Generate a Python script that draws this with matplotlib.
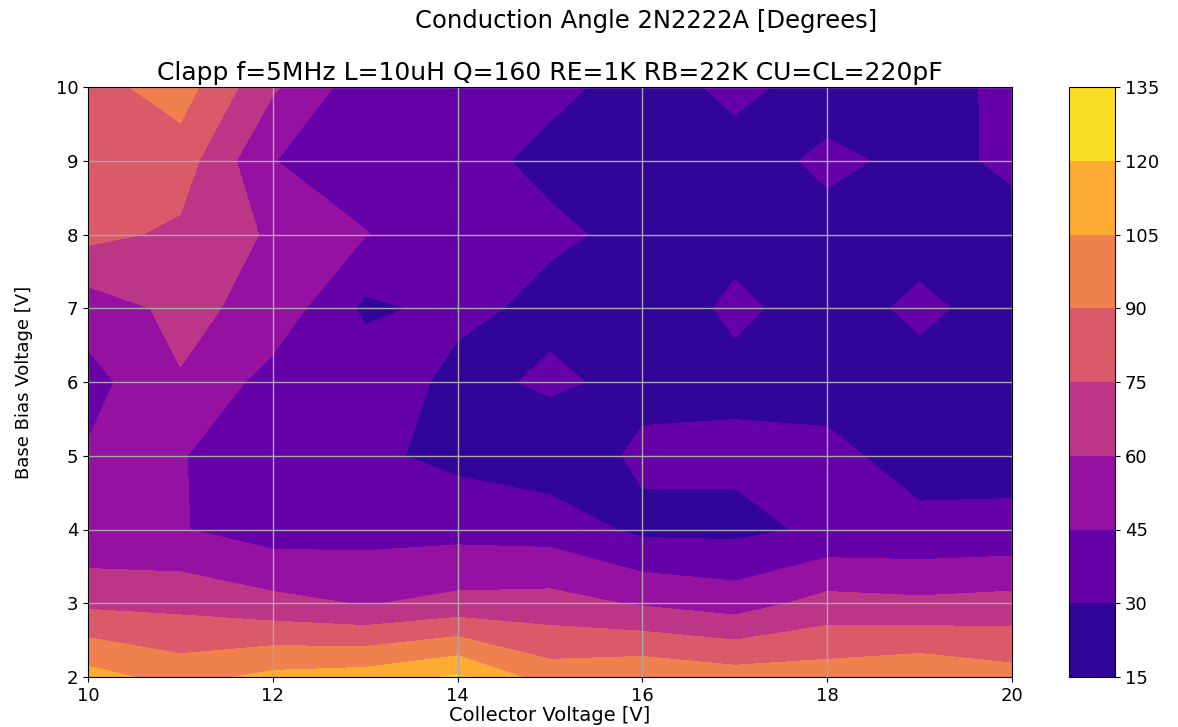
import numpy as np
import matplotlib
matplotlib.use("Agg")
import matplotlib.pyplot as plt

collector_v = [10, 11, 12, 13, 14, 15, 16, 17, 18, 19, 20]
base_v = [2, 3, 4, 5, 6, 7, 8, 9, 10]

# conduction angle [deg], one row per base bias voltage
angle_y2 = [110.8, 99, 109, 111.9, 121.7, 97.8, 102.3, 97, 97.8, 102.6, 95.8]
angle_y3 = [71.8, 70.5, 64.2, 59, 64, 65.2, 58.3, 53, 65.2, 63.1, 65.2]
angle_y4 = [46.7, 45.8, 38, 39.3, 40, 38.5, 26.6, 26.3, 32.5, 32.5, 33.6]
angle_y5 = [46.5, 45.8, 35, 33, 26.1, 20.4, 32.7, 32.9, 32.6, 26, 25]
angle_y6 = [39.5, 59, 39, 40.5, 25.5, 32.4, 26.1, 27, 26, 26.4, 25]
angle_y7 = [52, 63.9, 55, 27, 33.5, 26.4, 23.3, 32, 25.6, 32, 26]
angle_y8 = [79, 72.2, 57.8, 45.5, 35, 32.1, 26.9, 26.9, 27.8, 26.4, 28.4]
angle_y9 = [84, 82.5, 45.3, 38, 33.6, 27.3, 26, 27, 31.3, 28.5, 30.8]
angle_y10 = [84.3, 97, 62, 36, 36, 32.4, 26.4, 31.85, 27, 26, 32.25]

levels = [15, 30, 45, 60, 75, 90, 105, 120, 135]

Z = np.array([angle_y2, angle_y3, angle_y4, angle_y5, angle_y6,
              angle_y7, angle_y8, angle_y9, angle_y10])
X, Y = np.meshgrid(collector_v, base_v)

plt.rcParams["font.family"] = ["DejaVu Sans"]

W, H = 1178, 727
fig = plt.figure(figsize=(W / 100, H / 100), dpi=100)
ax = fig.add_axes([88 / W, 1 - 677 / H, (1012 - 88) / W, (677 - 87) / H])
cax = fig.add_axes([1069 / W, 1 - 677 / H, (1115 - 1069) / W, (677 - 87) / H])

cs = ax.contourf(X, Y, Z, levels=levels, cmap="plasma")
ax.grid(True, color="#a8a8a8", linewidth=1.0)
ax.tick_params(labelsize=13)
cb = fig.colorbar(cs, cax=cax)
cb.ax.tick_params(labelsize=13)

ax.set_title("Clapp f=5MHz L=10uH Q=160 RE=1K RB=22K CU=CL=220pF",
             fontsize=18, pad=5)
fig.suptitle("Conduction Angle 2N2222A [Degrees]", x=646 / W, y=0.988,
             fontsize=17.5)
ax.set_xlabel("Collector Voltage [V]", fontsize=14, labelpad=1)
ax.set_ylabel("Base Bias Voltage [V]", fontsize=13, labelpad=16)

fig.savefig("out.png", dpi=100)
